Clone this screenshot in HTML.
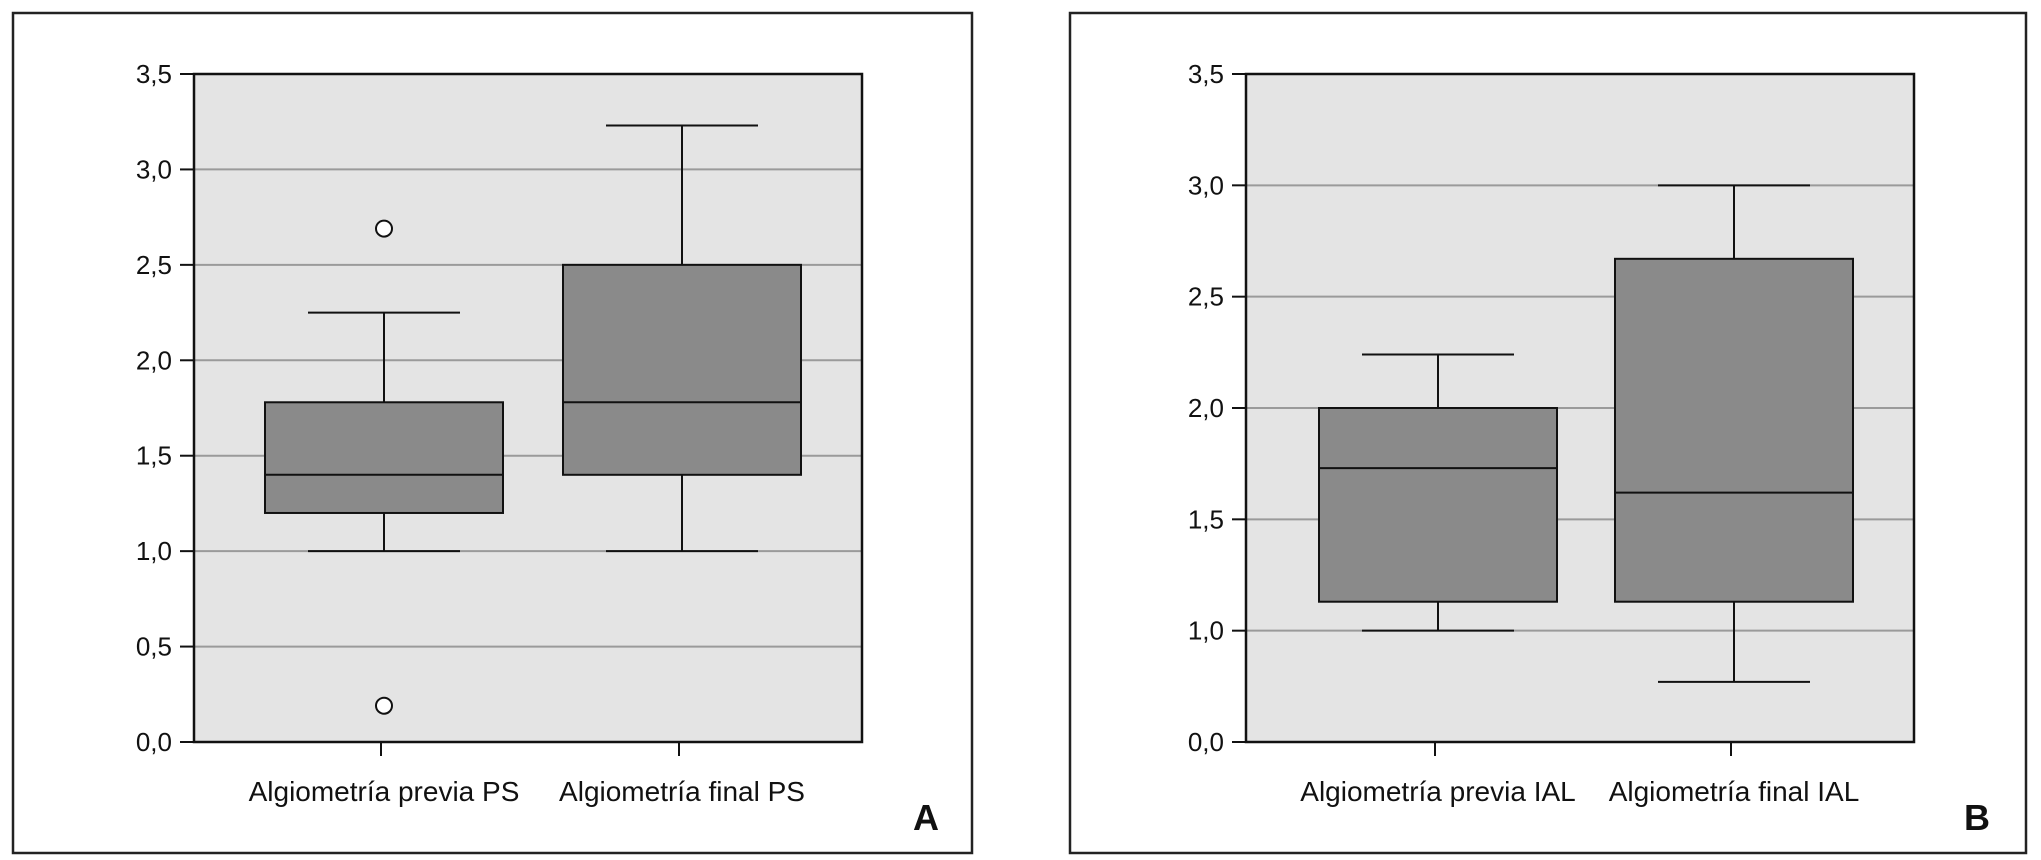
<!DOCTYPE html>
<html><head><meta charset="utf-8"><style>
html,body{margin:0;padding:0;background:#fff;}
svg{display:block;font-family:"Liberation Sans",Arial,sans-serif;}
</style></head><body>
<svg id="fig" width="2041" height="860" viewBox="0 0 2041 860" xmlns="http://www.w3.org/2000/svg"></svg>
<script>
// Panel A data
const catsA = ["Algiometría previa PS","Algiometría final PS"];
const lowA = [1.0, 1.0];
const q1A = [1.2, 1.4];
const medA = [1.4, 1.78];
const q3A = [1.78, 2.5];
const highA = [2.25, 3.23];
const outA0 = [2.69, 0.19];
const outA1 = [];
const ticksA = [0, 0.5, 1, 1.5, 2, 2.5, 3, 3.5];
const tickLabelsA = ["0,0","0,5","1,0","1,5","2,0","2,5","3,0","3,5"];
// Panel B data (axis has break: "0,0" shown at 0.5 position)
const catsB = ["Algiometría previa IAL","Algiometría final IAL"];
const lowB = [1.0, 0.77];
const q1B = [1.13, 1.13];
const medB = [1.73, 1.62];
const q3B = [2.0, 2.67];
const highB = [2.24, 3.0];
const ticksB = [0.5, 1, 1.5, 2, 2.5, 3, 3.5];
const tickLabelsB = ["0,0","1,0","1,5","2,0","2,5","3,0","3,5"];

const NS="http://www.w3.org/2000/svg";
const svg=document.getElementById('fig');
function mk(tag,attrs,parent){const e=document.createElementNS(NS,tag);for(const k in attrs)e.setAttribute(k,attrs[k]);(parent||svg).appendChild(e);return e;}

function panel(p){
  const g=mk('g',{});
  
  
  const fr=mk('rect',{x:p.fx,y:13,width:p.fw,height:840,fill:'#fff',stroke:'#222','stroke-width':2.5},g);
  
  
  const x0=p.px, x1=p.px+668, yTop=74, yBot=742;
  const y=v=>yBot-(v-p.vmin)/(p.vmax-p.vmin)*(yBot-yTop);
  const bg=mk('rect',{x:x0,y:yTop,width:x1-x0,height:yBot-yTop,fill:'#e4e4e4'},g);
  
  
  p.ticks.forEach((t,i)=>{
    const yy=y(t);
    if(i>0&&i<p.ticks.length-1){
      const gl=mk('line',{x1:x0,x2:x1,y1:yy,y2:yy,stroke:'#9a9a9a','stroke-width':2},g);
      
      
    }
    const tk=mk('line',{x1:x0-14,x2:x0,y1:yy,y2:yy,stroke:'#111','stroke-width':2},g);
    
    
    const tl=mk('text',{x:x0-22,y:yy+9,'text-anchor':'end','font-size':26,fill:'#111'},g);
    tl.textContent=p.labels[i];
    
    
  });
  p.cats.forEach((c,i)=>{
    const cx=p.centers[i];
    const wl=mk('line',{x1:cx,x2:cx,y1:y(p.high[i]),y2:y(p.q3[i]),stroke:'#111','stroke-width':2},g);
    
    
    const wl2=mk('line',{x1:cx,x2:cx,y1:y(p.q1[i]),y2:y(p.low[i]),stroke:'#111','stroke-width':2},g);
    
    
    const c1=mk('line',{x1:cx-76,x2:cx+76,y1:y(p.high[i]),y2:y(p.high[i]),stroke:'#111','stroke-width':2},g);
    
    
    const c2=mk('line',{x1:cx-76,x2:cx+76,y1:y(p.low[i]),y2:y(p.low[i]),stroke:'#111','stroke-width':2},g);
    
    
    const bx=mk('rect',{x:cx-119,y:y(p.q3[i]),width:238,height:y(p.q1[i])-y(p.q3[i]),fill:'#8a8a8a',stroke:'#111','stroke-width':2},g);
    
    
    const md=mk('line',{x1:cx-119,x2:cx+119,y1:y(p.med[i]),y2:y(p.med[i]),stroke:'#111','stroke-width':2},g);
    
    
    (p.outs[i]||[]).forEach(o=>{
      const oc=mk('circle',{cx:cx,cy:y(o),r:8,fill:'#fff',stroke:'#111','stroke-width':2},g);
      
      
    });
    const xt=mk('line',{x1:cx-3,x2:cx-3,y1:yBot,y2:yBot+14,stroke:'#111','stroke-width':2},g);
    
    
    const xl=mk('text',{x:cx,y:801,'text-anchor':'middle','font-size':28,fill:'#111'},g);
    xl.textContent=c;
    
    
  });
  const ax=mk('path',{d:`M${x0},${yTop} H${x1} V${yBot} H${x0} Z`,fill:'none',stroke:'#111','stroke-width':2.5},g);
  
  
  const L=mk('text',{x:p.lx,y:830,'text-anchor':'middle','font-size':36,'font-weight':'bold',fill:'#111'},g);
  L.textContent=p.letter;
  
  
}
panel({name:'panel-a',fx:13,fw:959,px:194,vmin:0,vmax:3.5,ticks:ticksA,labels:tickLabelsA,cats:catsA,centers:[384,682],
  low:lowA,q1:q1A,med:medA,q3:q3A,high:highA,outs:[outA0,outA1],letter:'A',lx:926});
panel({name:'panel-b',fx:1070,fw:956,px:1246,vmin:0.5,vmax:3.5,ticks:ticksB,labels:tickLabelsB,cats:catsB,centers:[1438,1734],
  low:lowB,q1:q1B,med:medB,q3:q3B,high:highB,outs:[[],[]],letter:'B',lx:1977});
</script>
</body></html>
